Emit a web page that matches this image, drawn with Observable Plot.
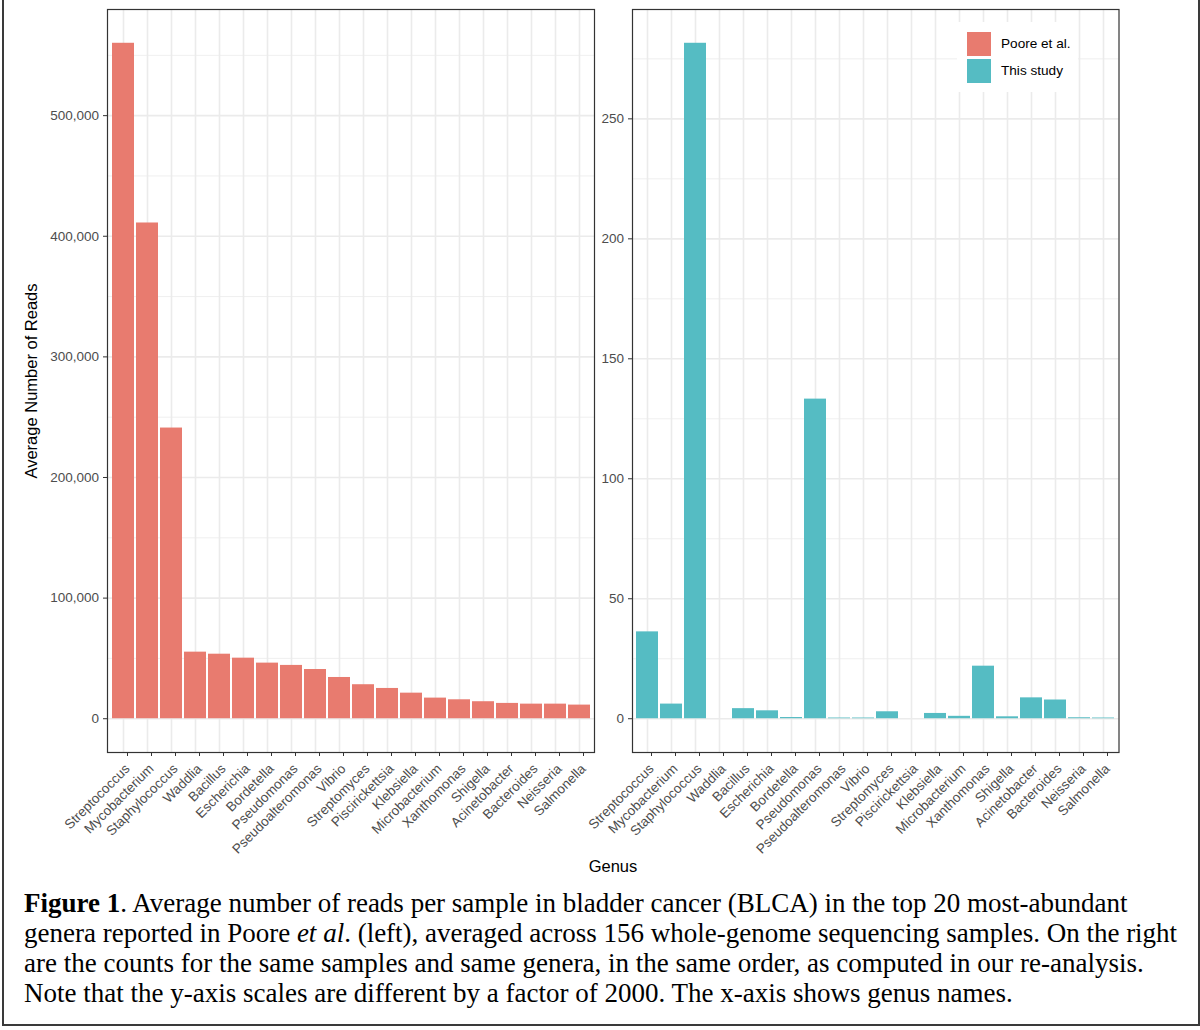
<!DOCTYPE html>
<html><head><meta charset="utf-8">
<script src="https://cdn.jsdelivr.net/npm/d3@7"></script>
<script src="https://cdn.jsdelivr.net/npm/@observablehq/plot@0.6"></script>
<style>
html,body{margin:0;padding:0;background:#fff;}
#fig{position:relative;width:1200px;height:1030px;overflow:hidden;font-family:"Liberation Sans",Arial,sans-serif;background:#fff;}
#border{position:absolute;left:2px;top:-3px;width:1198px;height:1029px;box-sizing:border-box;border:2px solid #3a3a3a;pointer-events:none;}
.panel{position:absolute;top:0;width:600px;}
#left{left:0}
#right{left:600px}
#xtitle{position:absolute;left:0;width:1226px;text-align:center;top:857px;font-size:16.5px;color:#000;}
#legend{position:absolute;left:957px;top:22px;width:121px;height:70px;background:#fff;}
.lkey{position:absolute;left:10px;width:24px;height:24px;}
.llab{position:absolute;left:44px;font-size:13.6px;color:#000;line-height:24px;white-space:nowrap;}
#caption{position:absolute;left:24px;top:888px;font-family:"Liberation Serif","Times New Roman",serif;font-size:27px;line-height:30px;color:#000;white-space:nowrap;}
[aria-label="y-axis tick"],[aria-label="x-axis tick"]{stroke:#333;}
</style>
</head><body>
<div id="fig">
  <div id="left" class="panel"></div>
  <div id="right" class="panel"></div>
  <div id="legend"></div>
  <div id="xtitle"></div>
  <div id="caption"></div>
  <div id="border"></div>
</div>
<script>
const genera = ["Streptococcus","Mycobacterium","Staphylococcus","Waddlia","Bacillus","Escherichia","Bordetella","Pseudomonas","Pseudoalteromonas","Vibrio","Streptomyces","Piscirickettsia","Klebsiella","Microbacterium","Xanthomonas","Shigella","Acinetobacter","Bacteroides","Neisseria","Salmonella"];
const pooreValues = [560000,411000,241000,55200,53500,50200,46100,44200,40800,34200,28200,25100,21200,17100,15700,14100,12700,12100,12100,11300];
const studyValues = [36.2,6.1,281.5,0,4.2,3.3,0.5,133.2,0.3,0.3,2.9,0,2.2,1.0,21.9,0.8,8.7,7.8,0.4,0.3];
const seriesNames = ["Poore et al.","This study"];
const seriesColors = ["#E87B6F","#55BCC3"];
const leftMajorTicks = [0,100000,200000,300000,400000,500000];
const leftMinorTicks = [50000,150000,250000,350000,450000,550000];
const rightMajorTicks = [0,50,100,150,200,250];
const rightMinorTicks = [25,75,125,175,225,275];
const yTitle = "Average Number of Reads";
const xTitle = "Genus";

function panel(values, color, majors, minors, fmt, ml, mr, withTitle) {
  const data = genera.map((g, i) => ({genus: g, value: values[i]}));
  const max = d3.max(values);
  const pad = 0.05 * max;
  const marks = [
    Plot.gridY({ticks: minors, stroke: "#ebebeb", strokeOpacity: 1, strokeWidth: 0.8}),
    Plot.gridY({ticks: majors, stroke: "#ebebeb", strokeOpacity: 1, strokeWidth: 1.6}),
    Plot.gridX({stroke: "#ebebeb", strokeOpacity: 1, strokeWidth: 1.6}),
    Plot.barY(data, {x: "genus", y: "value", fill: color}),
    Plot.frame({stroke: "#333", strokeWidth: 1.2}),
    Plot.axisY({ticks: majors, tickSize: 4, tickPadding: 4.5, tickFormat: fmt, color: "#4d4d4d", label: null}),
    Plot.axisX({tickSize: 4, tickPadding: 10, tickRotate: -45, dx: 4, color: "#4d4d4d", label: null})
  ];
  if (withTitle) {
    marks.push(Plot.text([yTitle], {text: d => d, frameAnchor: "left", textAnchor: "middle", dx: -76, rotate: -90, fontSize: 16.5, fill: "#000"}));
  }
  return Plot.plot({
    width: 600, height: 870,
    marginTop: 9, marginBottom: 118, marginLeft: ml, marginRight: mr,
    style: {background: "transparent", font: "13.5px 'Liberation Sans', Arial, sans-serif", overflow: "visible"},
    x: {type: "band", domain: genera, paddingInner: 0.1, paddingOuter: 0.15, align: 0.5},
    y: {domain: [-pad, max + pad]},
    marks
  });
}

document.getElementById("left").appendChild(
  panel(pooreValues, seriesColors[0], leftMajorTicks, leftMinorTicks, d3.format(","), 107, 6, true));
document.getElementById("right").appendChild(
  panel(studyValues, seriesColors[1], rightMajorTicks, rightMinorTicks, d3.format("d"), 32, 81.5, false));

const legend = document.getElementById("legend");
seriesNames.forEach((name, i) => {
  const k = document.createElement("div");
  k.className = "lkey";
  k.style.top = (10 + i * 26.5) + "px";
  k.style.background = seriesColors[i];
  legend.appendChild(k);
  const l = document.createElement("div");
  l.className = "llab";
  l.style.top = (10 + i * 26.5) + "px";
  l.textContent = name;
  legend.appendChild(l);
});

document.getElementById("xtitle").textContent = xTitle;
document.getElementById("caption").innerHTML =
  "<b>Figure 1</b>. Average number of reads per sample in bladder cancer (BLCA) in the top 20 most-abundant<br>" +
  "genera reported in Poore <i>et al</i>. (left), averaged across 156 whole-genome sequencing samples. On the right<br>" +
  "are the counts for the same samples and same genera, in the same order, as computed in our re-analysis.<br>" +
  "Note that the y-axis scales are different by a factor of 2000. The x-axis shows genus names.";
</script>
</body></html>
